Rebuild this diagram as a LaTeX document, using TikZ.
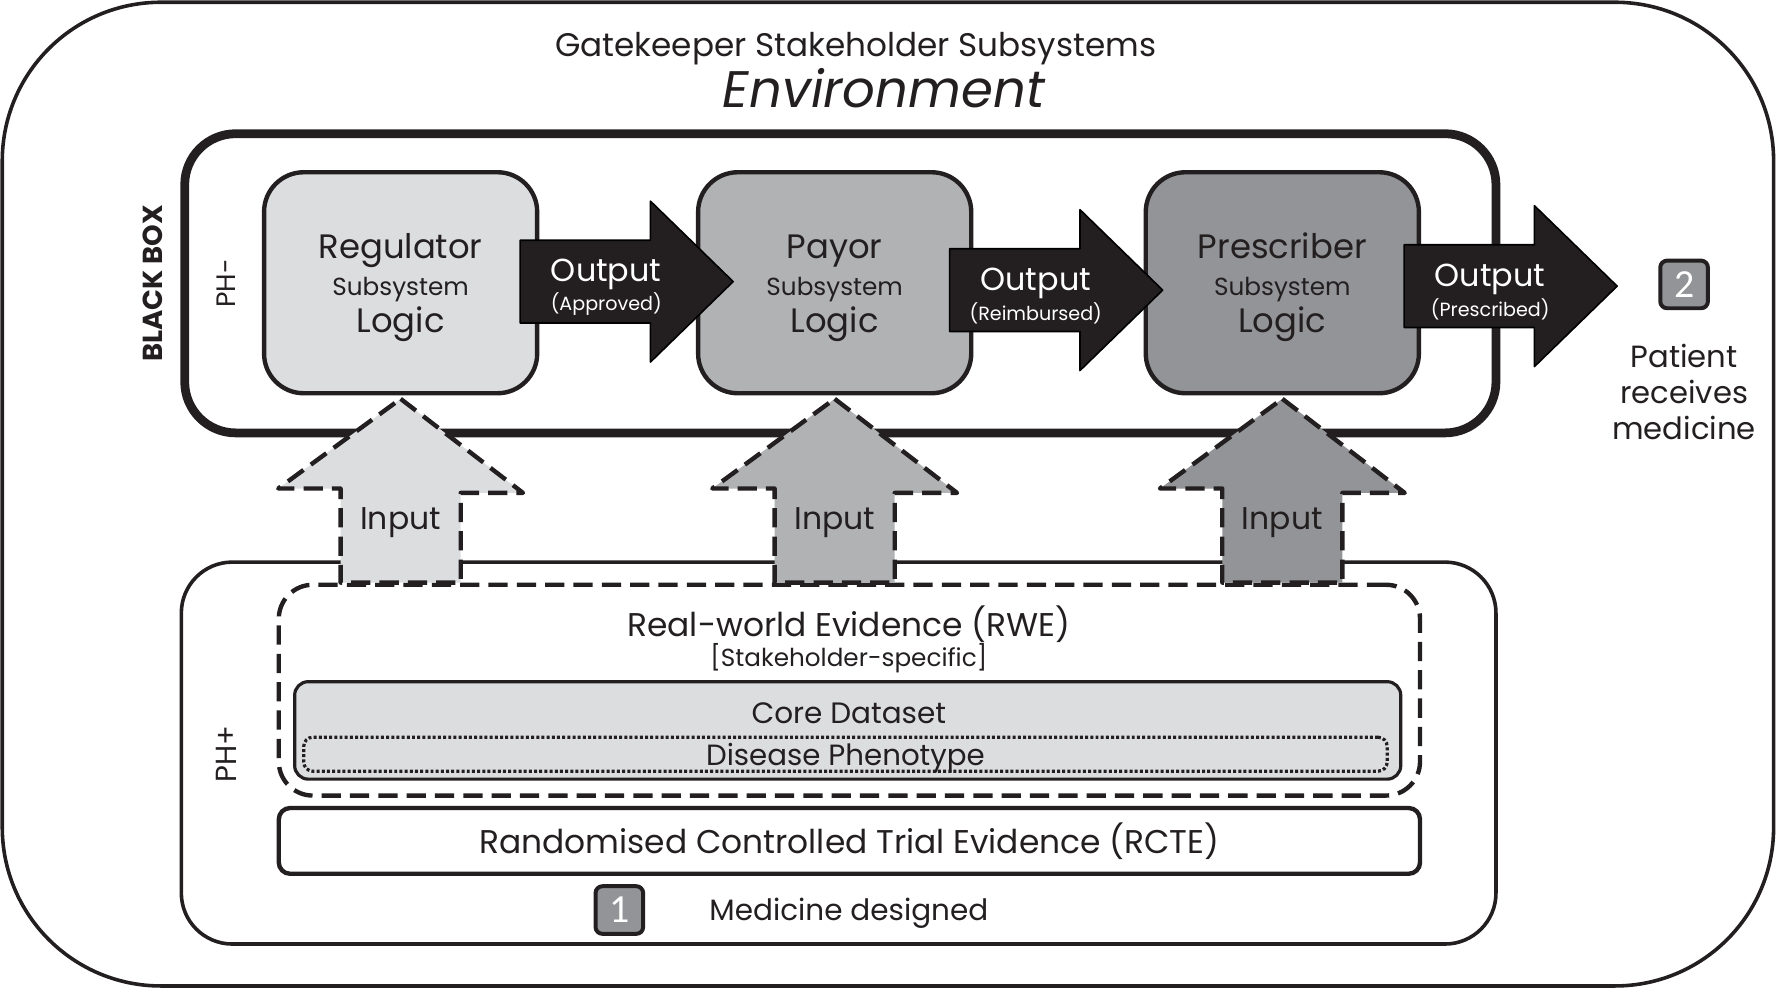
\documentclass[tikz,border=0pt]{standalone}
\usepackage{fontspec}
\setmainfont{Poppins}
\newfontfamily\badgefont{Carlito}

\definecolor{ink}{HTML}{231F20}
\definecolor{regfill}{HTML}{DCDDDF}
\definecolor{payfill}{HTML}{B1B2B4}
\definecolor{prefill}{HTML}{939497}

\begin{document}
\begin{tikzpicture}[
    line join=round,
    txt/.style={text=ink, inner sep=0pt, align=center},
    subbox/.style={draw=ink, line width=1.1pt, rounded corners=0.35cm,
        minimum width=2.41cm, minimum height=1.95cm, align=center, text=ink,
        font=\fontsize{8.5}{9.2}\selectfont},
    outarrow/.style={fill=ink},
    outtext/.style={text=white, inner sep=0pt, align=center,
        font=\fontsize{8}{7.5}\selectfont},
    inarrow/.style={draw=ink, line width=1.1pt, dash pattern=on 0.17cm off 0.08cm},
    badge/.style={draw=ink, line width=1pt, fill=prefill, rounded corners=0.06cm,
        minimum size=0.42cm, inner sep=0pt, text=white,
        font=\badgefont\fontsize{10}{10}\selectfont},
]

% Page size
\useasboundingbox (0,0) rectangle (15.68,8.72);

% Environment frame
\draw[ink, line width=0.9pt, rounded corners=1.4cm] (0.02,0.02) rectangle (15.65,8.70);
\node[txt, font=\fontsize{8.2}{9}\selectfont] (title) at (7.55,8.29) {Gatekeeper Stakeholder Subsystems};
\node[txt, font=\fontsize{12.9}{14}\selectfont\itshape] (env) at (7.80,7.94) {Environment};

% Black box
\node[draw=ink, line width=2.2pt, rounded corners=0.45cm, minimum width=11.57cm,
    minimum height=2.64cm] (bbox) at (7.415,6.22) {};
\node[txt, rotate=90, font=\fontsize{6.9}{7}\selectfont\bfseries] (bblabel) at (1.35,6.22) {BLACK BOX};
\node[txt, rotate=90, font=\fontsize{6.7}{7}\selectfont] (phminus) at (2.00,6.22) {PH-};

% Design box
\node[draw=ink, line width=0.9pt, rounded corners=0.45cm, minimum width=11.6cm,
    minimum height=3.37cm] (design) at (7.40,2.075) {};
\node[txt, rotate=90, font=\fontsize{7.3}{8}\selectfont] (phplus) at (2.00,2.07) {PH+};

% Evidence
\node[draw=ink, line width=1.1pt, dash pattern=on 0.17cm off 0.08cm, rounded corners=0.3cm,
    minimum width=10.07cm, minimum height=1.86cm] (rwe) at (7.495,2.63) {};
\node[txt, font=\fontsize{8.25}{9}\selectfont] (rwetext) at (7.49,3.21) {Real-world Evidence (RWE)};
\node[txt, font=\fontsize{6.2}{7}\selectfont] (rwesub) at (7.49,2.91) {[Stakeholder-specific]};
\node[draw=ink, line width=0.8pt, fill=regfill, rounded corners=0.12cm,
    minimum width=9.76cm, minimum height=0.86cm] (core) at (7.48,2.275) {};
\node[txt, font=\fontsize{7.4}{8}\selectfont] (coretext) at (7.49,2.43) {Core Dataset};
\node[draw=ink, line width=0.8pt, dash pattern=on 0.75pt off 0.55pt, rounded corners=0.08cm,
    minimum width=9.56cm, minimum height=0.30cm] (pheno) at (7.46,2.065) {};
\node[txt, font=\fontsize{7.35}{8}\selectfont] (phenotext) at (7.46,2.03) {Disease Phenotype};
\node[txt, draw=ink, line width=1.1pt, rounded corners=0.1cm, minimum width=10.07cm,
    minimum height=0.58cm, text height=7.9pt, font=\fontsize{8.25}{9}\selectfont] (rcte) at (7.495,1.30) {Randomised Controlled Trial Evidence (RCTE)};
\node[badge] (one) at (5.465,0.69) {1};
\node[txt, font=\fontsize{7.4}{9}\selectfont] (designed) at (7.49,0.665) {Medicine designed};

% Subsystems
\foreach \nm/\x/\col/\ttl in {reg/3.535/regfill/Regulator, pay/7.365/payfill/Payor, pre/11.315/prefill/Prescriber} {
    \node[subbox, fill=\col] (\nm) at (\x,6.225) {\rule{0pt}{8.7pt}\ttl\\{\fontsize{6.2}{7}\selectfont Subsystem}\\Logic};
}

% Inputs from the evidence
\foreach \nm/\col in {reg/regfill, pay/payfill, pre/prefill} {
    \coordinate (\nm-tip) at ([yshift=-0.03cm]\nm.south);
    \coordinate (\nm-base) at (\nm.south |- rwe.north);
    \draw[inarrow, fill=\col] (\nm-tip) -- ++(1.08,-0.83) -- ++(-0.55,0)
        -- ([xshift=0.53cm]\nm-base) -- ([xshift=-0.53cm]\nm-base)
        -- ++(0,0.83) -- ++(-0.55,0) -- cycle;
    \node[txt, font=\fontsize{7.9}{9}\selectfont] (\nm-intext) at ([yshift=-1.12cm]\nm.south) {Input};
}

% Outputs
\foreach \nm/\dx/\dy/\res in {reg/-0.17/0.01/Approved, pay/-0.21/-0.065/Reimbursed, pre/-0.15/-0.03/Prescribed} {
    \coordinate (\nm-tail) at ([xshift=\dx cm,yshift=\dy cm]\nm.east);
    \draw[outarrow] (\nm-tail) ++(0,0.365) -- ++(1.15,0) -- ++(0,0.345) -- ++(0.73,-0.71)
        -- ++(-0.73,-0.71) -- ++(0,0.345) -- ++(-1.15,0) -- cycle;
    \node[outtext] (\nm-outtext) at ([xshift=0.76cm,yshift=-0.05cm]\nm-tail) {Output\\{\fontsize{4.8}{5}\selectfont (\res)}};
}

% Patient
\node[badge] (two) at (14.86,6.21) {2};
\node[txt, font=\fontsize{7.7}{9.1}\selectfont] (patient) at (14.86,5.26) {Patient\\receives\\medicine};

\end{tikzpicture}
\end{document}
